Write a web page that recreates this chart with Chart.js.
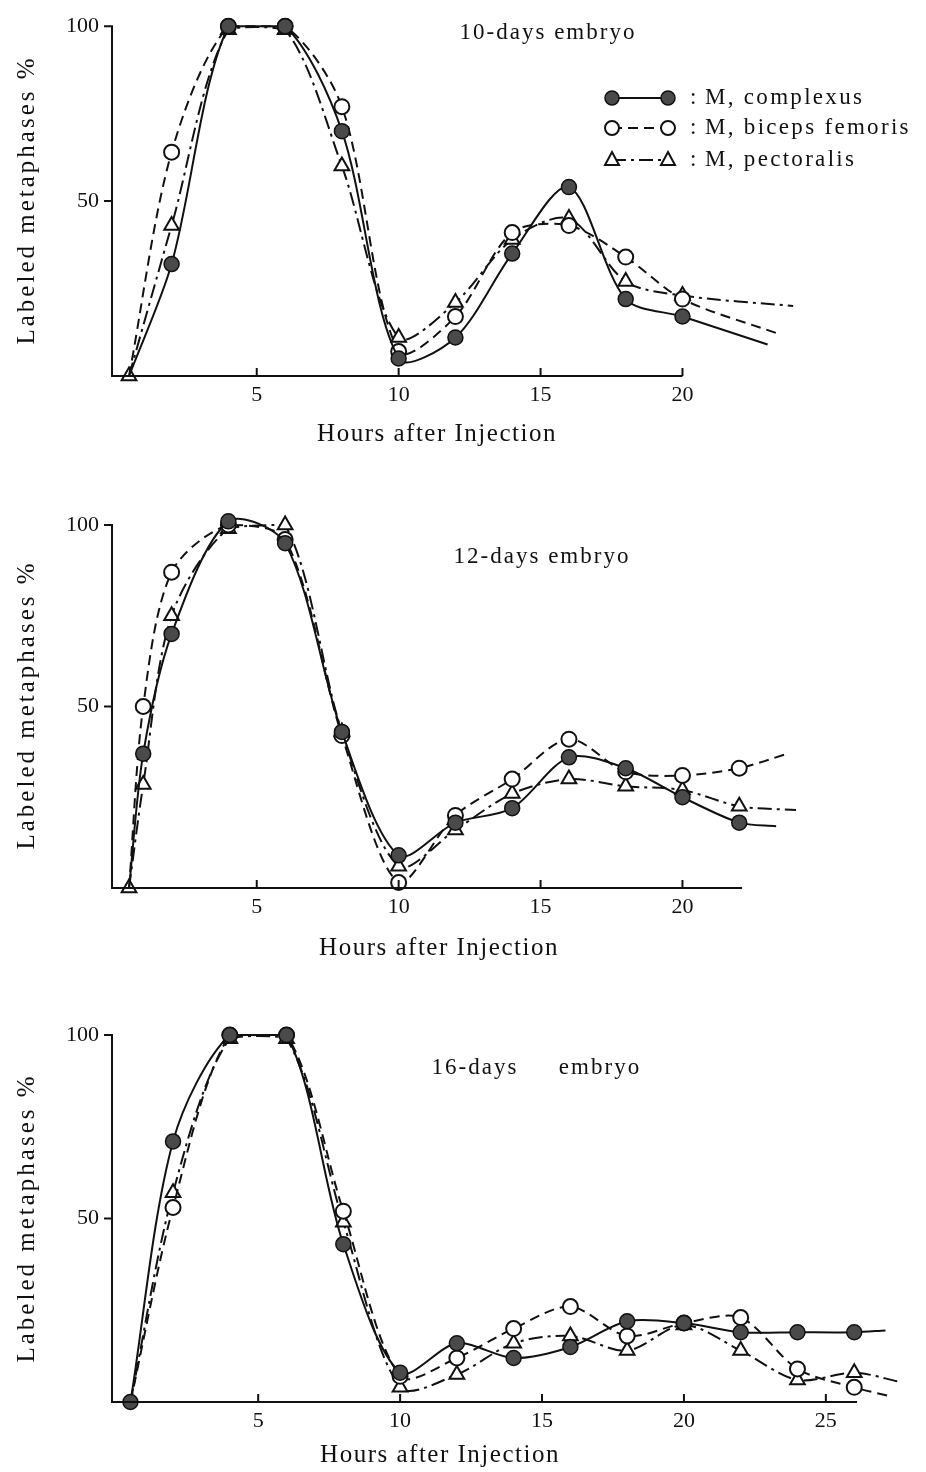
<!DOCTYPE html>
<html>
<head>
<meta charset="utf-8">
<script src="https://cdn.jsdelivr.net/npm/chart.js@4.4.1/dist/chart.umd.min.js"></script>
<style>
  body { margin: 0; background: #fff; width: 926px; height: 1472px; position: relative; overflow: hidden; }
  .panel { position: absolute; left: 0; width: 926px; }
</style>
</head>
<body>
<div class="panel" style="top:0;height:460px"><canvas id="c10"></canvas></div>
<div class="panel" style="top:470px;height:500px"><canvas id="c12"></canvas></div>
<div class="panel" style="top:985px;height:487px"><canvas id="c16"></canvas></div>
<script>
// --- data (hours after injection, % labeled metaphases) ---
const hours10      = [0.5, 2, 4, 6, 8, 10, 12, 14, 16, 18, 20];
const complexus10  = [0, 32, 100, 100, 70, 5, 11, 35, 54, 22, 17];
const biceps10     = [0, 64, 100, 100, 77, 7, 17, 41, 43, 34, 22];
const pectoralis10 = [0, 43, 99, 99, 60, 11, 21, 39, 45, 27, 23];
const tailX10 = [23, 23.4, 23.9];   // where the drawn curves end (complexus, biceps, pectoralis)
const tailY10 = [9, 12, 20];

const hours12      = [0.5, 1, 2, 4, 6, 8, 10, 12, 14, 16, 18, 20, 22];
const complexus12  = [0, 37, 70, 101, 95, 43, 9, 18, 22, 36, 33, 25, 18];
const biceps12     = [0, 50, 87, 100, 96, 42, 1.5, 20, 30, 41, 32, 31, 33];
const pectoralis12 = [0, 28.5, 75, 99, 100, 43, 6, 16, 26, 30, 28, 27, 22.5];
const tailX12 = [23.3, 23.7, 24];
const tailY12 = [17, 37, 21.5];

const hours16      = [0.5, 2, 4, 6, 8, 10, 12, 14, 16, 18, 20, 22, 24, 26];
const complexus16  = [0, 71, 100, 100, 43, 8, 16, 12, 15, 22, 21.5, 19, 19, 19];
const biceps16     = [0, 53, 100, 100, 52, 7, 12, 20, 26, 18, 21.5, 23, 9, 4];
const pectoralis16 = [0, 57, 99, 99, 49, 4, 7.5, 16, 18, 14, 21, 14, 6, 8];
const tailX16 = [27.1, 27.3, 27.6];
const tailY16 = [19.5, 1.5, 5.5];

const xTicks10 = [5, 10, 15, 20];
const xTicks12 = [5, 10, 15, 20];
const xTicks16 = [5, 10, 15, 20, 25];
const yTicks = [50, 100];

const seriesNames = ['M, complexus', 'M, biceps femoris', 'M, pectoralis'];

const SERIF = '"Liberation Serif", "DejaVu Serif", serif';
const INK = '#111';
const DASHES = [[], [10, 6], [14, 5, 3, 5]];

function pts(hours, vals, tx, ty) {
  return hours.map((h, i) => ({x: h, y: vals[i]})).concat([{x: tx, y: ty}]);
}

function makeSets(hours, c, b, p, tx, ty, startWith) {
  const n = hours.length;
  const radius = (r, key) => ctx => {
    if (ctx.dataIndex >= n) return 0;
    if (ctx.dataIndex === 0 && key !== startWith) return 0;
    return r;
  };
  const base = {
    borderColor: INK, borderWidth: 2, tension: 0.3, clip: false,
    pointBorderColor: INK, pointHoverRadius: 0
  };
  return [
    Object.assign({}, base, {
      label: seriesNames[0], data: pts(hours, c, tx[0], ty[0]),
      borderDash: DASHES[0], pointStyle: 'circle', pointRadius: radius(7.5, 'c'),
      pointBackgroundColor: '#4a4a4a', pointBorderWidth: 1.5
    }),
    Object.assign({}, base, {
      label: seriesNames[1], data: pts(hours, b, tx[1], ty[1]),
      borderDash: DASHES[1], pointStyle: 'circle', pointRadius: radius(7.5, 'b'),
      pointBackgroundColor: '#fff', pointBorderWidth: 2
    }),
    Object.assign({}, base, {
      label: seriesNames[2], data: pts(hours, p, tx[2], ty[2]),
      borderDash: DASHES[2], pointStyle: 'triangle', pointRadius: radius(8.5, 'p'),
      pointBackgroundColor: '#fff', pointBorderWidth: 2
    })
  ];
}

function drawMarker(ctx, kind, x, y) {
  ctx.save();
  ctx.setLineDash([]);
  ctx.lineWidth = kind === 0 ? 1.5 : 2;
  ctx.strokeStyle = INK;
  ctx.fillStyle = kind === 0 ? '#4a4a4a' : '#fff';
  ctx.beginPath();
  if (kind === 2) {
    ctx.moveTo(x, y - 8); ctx.lineTo(x + 7, y + 5); ctx.lineTo(x - 7, y + 5); ctx.closePath();
  } else {
    ctx.arc(x, y, 7, 0, Math.PI * 2);
  }
  ctx.fill(); ctx.stroke();
  ctx.restore();
}

// axes, titles and legend drawn in the style of the printed figure
const decor = {
  id: 'decor',
  afterDraw(chart, args, o) {
    const {ctx, chartArea} = chart;
    const xs = chart.scales.x, ys = chart.scales.y;
    const y0 = ys.getPixelForValue(0), y100 = ys.getPixelForValue(100);
    const left = chartArea.left;
    ctx.save();
    ctx.strokeStyle = INK; ctx.lineWidth = 2; ctx.setLineDash([]);
    ctx.beginPath();
    ctx.moveTo(left, y100 - 1); ctx.lineTo(left, y0);
    ctx.lineTo(xs.getPixelForValue(o.axisEnd), y0);
    yTicks.forEach(v => { const py = ys.getPixelForValue(v); ctx.moveTo(left, py); ctx.lineTo(left - 8, py); });
    o.xTicks.forEach(v => { const px = xs.getPixelForValue(v); ctx.moveTo(px, y0); ctx.lineTo(px, y0 - 8); });
    ctx.stroke();

    ctx.fillStyle = INK;
    ctx.textAlign = 'center'; ctx.textBaseline = 'middle';
    ctx.font = '23px ' + SERIF;
    ctx.letterSpacing = '2px';
    o.title.forEach(t => ctx.fillText(t[0], t[1], o.titleY));

    ctx.font = '25px ' + SERIF;
    ctx.letterSpacing = '1.5px';
    ctx.fillText('Hours after Injection', o.xTitleX, o.xTitleY);

    ctx.letterSpacing = '3px';
    ctx.translate(27, o.yTitleY);
    ctx.rotate(-Math.PI / 2);
    ctx.fillText('Labeled metaphases %', 0, 0);
    ctx.restore();

    if (o.legend) {
      ctx.save();
      ctx.strokeStyle = INK; ctx.lineWidth = 2; ctx.fillStyle = INK;
      ctx.font = '23px ' + SERIF; ctx.textBaseline = 'middle'; ctx.letterSpacing = '2.3px';
      [98, 128, 160].forEach((ly, i) => {
        ctx.setLineDash(DASHES[i]);
        ctx.beginPath(); ctx.moveTo(612, ly); ctx.lineTo(668, ly); ctx.stroke();
        drawMarker(ctx, i, 612, ly);
        drawMarker(ctx, i, 668, ly);
        ctx.fillText(':', 690, ly);
        ctx.fillText(seriesNames[i], 705, ly);
      });
      ctx.restore();
    }
  }
};

function makeChart(id, cfg) {
  const el = document.getElementById(id);
  const H = el.parentNode.clientHeight;
  return new Chart(el, {
    type: 'line',
    data: {datasets: cfg.datasets},
    options: {
      responsive: true, maintainAspectRatio: false, animation: false,
      layout: {padding: {top: cfg.top, right: 926 - cfg.right, bottom: 0, left: 0}},
      plugins: {legend: {display: false}, tooltip: {enabled: false}, decor: cfg.decor},
      scales: {
        x: {
          type: 'linear', min: cfg.xMin, max: cfg.xMax,
          grid: {display: false, drawTicks: false}, border: {display: false},
          afterBuildTicks: s => { s.ticks = cfg.decor.xTicks.map(v => ({value: v})); },
          afterFit: s => { s.height = H - cfg.bottom; },
          ticks: {padding: 6, color: INK, font: {family: SERIF, size: 22}, maxRotation: 0, autoSkip: false}
        },
        y: {
          type: 'linear', min: 0, max: 100,
          grid: {display: false, drawTicks: false}, border: {display: false},
          afterBuildTicks: s => { s.ticks = yTicks.map(v => ({value: v})); },
          afterFit: s => { s.width = 112; },
          ticks: {padding: 13, color: INK, font: {family: SERIF, size: 22}}
        }
      }
    },
    plugins: [decor]
  });
}

makeChart('c10', {
  datasets: makeSets(hours10, complexus10, biceps10, pectoralis10, tailX10, tailY10, 'p'),
  top: 14, bottom: 376, right: 796, xMin: -0.1, xMax: 24,
  decor: {axisEnd: 20, xTicks: xTicks10, title: [['10-days embryo', 548]], titleY: 33,
          xTitleX: 437, xTitleY: 434, yTitleY: 200, legend: true}
});

makeChart('c12', {
  datasets: makeSets(hours12, complexus12, biceps12, pectoralis12, tailX12, tailY12, 'p'),
  top: 55, bottom: 418, right: 796, xMin: -0.1, xMax: 24,
  decor: {axisEnd: 22.1, xTicks: xTicks12, title: [['12-days embryo', 542]], titleY: 87,
          xTitleX: 439, xTitleY: 478, yTitleY: 235, legend: false}
});

makeChart('c16', {
  datasets: makeSets(hours16, complexus16, biceps16, pectoralis16, tailX16, tailY16, 'c'),
  top: 50, bottom: 417, right: 911, xMin: -0.15, xMax: 28,
  decor: {axisEnd: 26.1, xTicks: xTicks16, title: [['16-days', 475], ['embryo', 600]], titleY: 83,
          xTitleX: 440, xTitleY: 470, yTitleY: 233, legend: false}
});
</script>
</body>
</html>
